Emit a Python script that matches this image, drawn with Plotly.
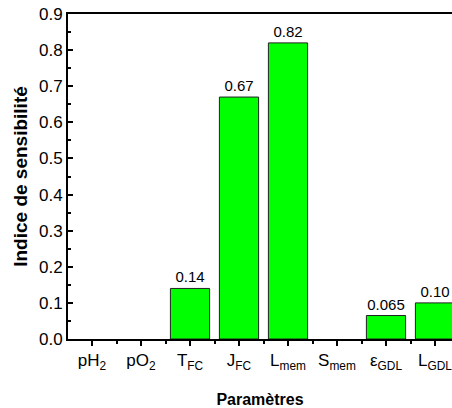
import plotly.graph_objects as go

categories = ["pH<sub>2</sub>", "pO<sub>2</sub>", "T<sub>FC</sub>", "J<sub>FC</sub>",
              "L<sub>mem</sub>", "S<sub>mem</sub>", "ε<sub>GDL</sub>", "L<sub>GDL</sub>"]
values = [0.0, 0.0, 0.14, 0.67, 0.82, 0.0, 0.065, 0.10]
labels = ["", "", "0.14", "0.67", "0.82", "", "0.065", "0.10"]
y_ticks = [0.0, 0.1, 0.2, 0.3, 0.4, 0.5, 0.6, 0.7, 0.8, 0.9]

xpos = list(range(len(categories)))
font = "Liberation Sans, Arial, sans-serif"
line_widths = [1 if v > 0 else 0 for v in values]

fig = go.Figure()
fig.add_trace(go.Bar(
    x=xpos, y=values, width=0.8,
    marker=dict(color="#00FF00", line=dict(color="#222222", width=line_widths)),
    text=labels, textposition="outside", cliponaxis=False,
    textfont=dict(family=font, size=15, color="#000"),
))

fig.update_layout(
    width=452, height=408,
    margin=dict(l=68, r=0, t=14, b=69),
    plot_bgcolor="white", paper_bgcolor="white",
    showlegend=False,
    font=dict(family=font, color="#000"),
    bargap=0.2,
)
fig.update_xaxes(
    range=[-0.49, 7.347],
    tickmode="array", tickvals=xpos, ticktext=categories,
    tickfont=dict(size=17), ticklabeloverflow="allow",
    ticks="outside", ticklen=5, tickwidth=2, tickcolor="#000",
    minor=dict(tickmode="array", tickvals=[i + 0.5 for i in range(-1, 8)],
               ticks="outside", ticklen=3, tickwidth=2, tickcolor="#000"),
    showline=True, linecolor="#000", linewidth=2, mirror=True,
    showgrid=False, zeroline=False,
    title=dict(text="<b>Paramètres</b>", font=dict(size=16), standoff=22),
)
fig.update_yaxes(
    range=[0, 0.9],
    tickmode="array", tickvals=y_ticks, ticktext=[f"{v:.1f}" for v in y_ticks],
    tickfont=dict(size=17),
    ticks="inside", ticklen=5, tickwidth=2, tickcolor="#000",
    minor=dict(tickmode="array", tickvals=[0.05 + 0.1 * i for i in range(9)],
               ticks="inside", ticklen=3, tickwidth=2, tickcolor="#000"),
    showline=True, linecolor="#000", linewidth=2,
    showgrid=False, zeroline=False,
    title=dict(text="<b>Indice de sensibilité</b>", font=dict(size=19), standoff=6),
)
fig.write_html("out.html")
